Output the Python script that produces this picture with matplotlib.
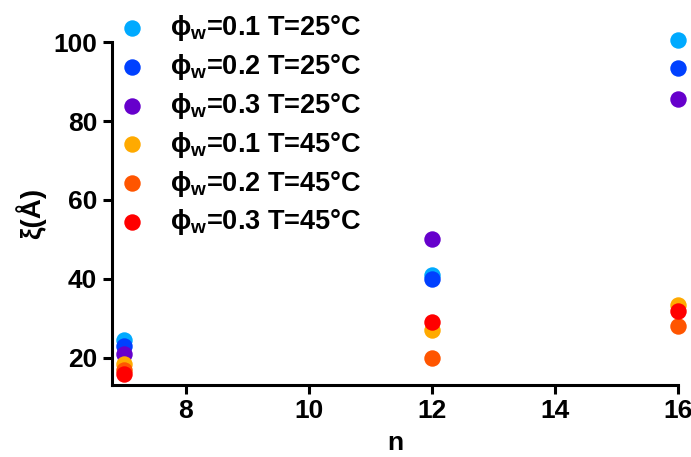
import matplotlib
matplotlib.use("Agg")
import matplotlib.pyplot as plt

plt.rcParams['font.family'] = ['Liberation Sans', 'DejaVu Sans']
plt.rcParams['font.weight'] = 'bold'
plt.rcParams['mathtext.fontset'] = 'custom'
plt.rcParams['mathtext.bf'] = 'Liberation Sans:bold'
plt.rcParams['mathtext.rm'] = 'Liberation Sans:bold'
plt.rcParams['mathtext.default'] = 'bf'

# data
n = [7, 12, 16]
labels = ["ϕ${}_{w}$=0.1 T=25°C", "ϕ${}_{w}$=0.2 T=25°C", "ϕ${}_{w}$=0.3 T=25°C",
          "ϕ${}_{w}$=0.1 T=45°C", "ϕ${}_{w}$=0.2 T=45°C", "ϕ${}_{w}$=0.3 T=45°C"]
xi_01_25 = [24.5, 41, 100.5]
xi_02_25 = [23, 40, 93.5]
xi_03_25 = [21, 50, 85.5]
xi_01_45 = [18.5, 27, 33.5]
xi_02_45 = [17, 20, 28]
xi_03_45 = [16, 29, 32]
series = [xi_01_25, xi_02_25, xi_03_25, xi_01_45, xi_02_45, xi_03_45]
colors = ['#00AAFF', '#0040FF', '#6600CC', '#FFAA00', '#FF5500', '#FF0000']

fig = plt.figure(figsize=(6.91, 4.57), dpi=100)
ax = fig.add_axes([0.162, 0.158, 0.819, 0.750])

for ys, c, lab in zip(series, colors, labels):
    ax.scatter(n, ys, s=140, color=c, label=lab, clip_on=False, zorder=3, linewidths=0)

ax.set_xlim(6.8, 16)
ax.set_ylim(13.2, 100)
ax.set_xticks([8, 10, 12, 14, 16])
ax.set_yticks([20, 40, 60, 80, 100])
for s in ['top', 'right']:
    ax.spines[s].set_visible(False)
for s in ['left', 'bottom']:
    ax.spines[s].set_linewidth(2.2)
ax.tick_params(width=2.2, length=6.5, labelsize=19, pad=4)
ax.set_xlabel("n", fontsize=19, fontweight='bold', labelpad=5.5)
ax.set_ylabel("ξ(Å)", fontsize=20, fontweight='bold', labelpad=5)

leg = ax.legend(loc='upper left', bbox_to_anchor=(0.168, 0.972), bbox_transform=fig.transFigure,
                frameon=False, fontsize=19.5, labelspacing=0.33, handlelength=1.2,
                handletextpad=0.8, borderaxespad=0, borderpad=0)

fig.savefig("out.png", dpi=100)
